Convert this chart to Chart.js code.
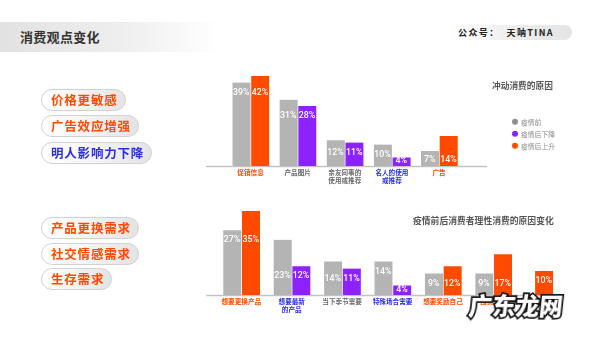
<!DOCTYPE html>
<html lang="zh">
<head>
<meta charset="utf-8">
<script src="https://cdn.jsdelivr.net/npm/chart.js@4.4.1/dist/chart.umd.min.js"></script>
<style>
  html, body { margin: 0; padding: 0; background: #fff; }
  #page { position: relative; width: 600px; height: 337px; overflow: hidden;
          font-family: "Noto Sans CJK SC", "Noto Sans", sans-serif; }
  canvas { position: absolute; left: 0; top: 0; }
  .band { position: absolute; left: 0; top: 22px; width: 220px; height: 30px;
          background: linear-gradient(to right, #e2e2e2 0%, #eeeeee 55%, rgba(255,255,255,0) 100%); }
  .page-title { position: absolute; left: 20px; top: 22px; height: 30px; line-height: 30px;
                font-size: 13px; font-weight: 700; color: #333; letter-spacing: 0.3px; }
  .account { position: absolute; left: 446px; top: 25px; width: 126px; height: 15px; border-radius: 8px;
             background: linear-gradient(to right, rgba(255,255,255,0) 0%, #ececec 60%, #e4e4e4 100%);
             box-sizing: border-box; padding-left: 12px; font-size: 9px; font-weight: 700;
             line-height: 15px; color: #222; letter-spacing: 1.4px; white-space: pre; }
  .tag { position: absolute; left: 41px; height: 22px; border-radius: 11px; border: 1px solid #d2d2d2;
         box-sizing: border-box; padding: 0 7px 0 9px; white-space: nowrap;
         background: linear-gradient(to right, #ffffff 0%, #f5f5f5 45%, #e3e3e3 100%);
         font-size: 12.5px; font-weight: 700; line-height: 20px; letter-spacing: 0.8px; }
  .hot { color: #ff4a00; }
  .cool { color: #2b2fe0; }
  .watermark { position: absolute; left: 469px; top: 290px; font-size: 23.5px; font-weight: 900;
               color: #fff; -webkit-text-stroke: 3.5px #141414; paint-order: stroke fill;
               line-height: 30px; transform: skewX(-6deg); white-space: nowrap; }
</style>
</head>
<body>
<div id="page">
  <div class="band"></div>
  <div class="page-title">消费观点变化</div>
  <div class="account">公众号：  天呐TINA</div>
  <canvas id="impulse" width="600" height="337"></canvas>
  <canvas id="rational" width="600" height="337"></canvas>
  <div class="watermark">广东龙网</div>
</div>
<script>
// ---- impulse purchases: reasons before / after the pandemic (%) ----
const impulseCategories = ['促销信息', '产品图片', ['亲友同事的', '使用或推荐'], ['名人的使用', '或推荐'], '广告'];
const impulseBefore = [39, 31, 12, 10, 7];
const impulseAfter  = [42, 28, 11, 4, 14];

// ---- rational purchases: reasons before / after the pandemic (%) ----
const rationalCategories = ['想要更换产品', ['想要最新', '的产品'], '当下季节需要', '特殊场合需要', '想要奖励自己', '囤货需要', '防疫需要'];
const rationalBefore = [27, 23, 14, 14, 9, 9, null];
const rationalAfter  = [35, 12, 11, 4, 12, 17, 10];

// ---- side notes ----
const impulseNotes  = ['价格更敏感', '广告效应增强', '明人影响力下降'];
const rationalNotes = ['产品更换需求', '社交情感需求', '生存需求'];
const legendNames = ['疫情前', '疫情后下降', '疫情后上升'];

// styling
const FONT = '"Noto Sans CJK SC", "Noto Sans", sans-serif';
const GREY = '#b4b4b4', UP = '#ff4a00', DOWN = '#8b22ff';
const TONE = { hot: '#ff4a00', cool: '#2b2fe0', plain: '#6a6a6a' };
const impulseTickTone  = ['hot', 'plain', 'plain', 'cool', 'hot'];
const rationalTickTone = ['hot', 'cool', 'plain', 'cool', 'hot', 'hot', 'hot'];
const impulseNoteTone  = ['hot', 'hot', 'cool'];
const rationalNoteTone = ['hot', 'hot', 'hot'];

function placeNotes(texts, tones, tops) {
  const page = document.getElementById('page');
  texts.forEach((t, i) => {
    const d = document.createElement('div');
    d.className = 'tag ' + tones[i];
    d.style.top = tops[i] + 'px';
    d.textContent = t;
    page.appendChild(d);
  });
}
placeNotes(impulseNotes, impulseNoteTone, [89, 115, 142]);
placeNotes(rationalNotes, rationalNoteTone, [217, 243, 268]);

// the "after" bar is orange when the share grew, purple when it fell
const afterColours = (before, after) =>
  after.map((v, i) => (before[i] == null || v > before[i]) ? UP : DOWN);

// grey base line running under each group of bars
const baseline = {
  id: 'baseline',
  beforeDatasetsDraw(chart, args, opts) {
    const { ctx, chartArea } = chart;
    const y = chart.scales.y.getPixelForValue(0) + 0.5;
    ctx.save();
    ctx.strokeStyle = '#c2c2c2';
    ctx.lineWidth = 1.5;
    ctx.beginPath();
    ctx.moveTo(chartArea.left - opts.extendLeft, y);
    ctx.lineTo(chartArea.right + opts.extendRight, y);
    ctx.stroke();
    ctx.restore();
  }
};

// percentage labels inside the bars, aligned per category
const valueLabels = {
  id: 'valueLabels',
  afterDatasetsDraw(chart) {
    const { ctx } = chart;
    ctx.save();
    ctx.font = '500 8.8px Roboto, "DejaVu Sans", sans-serif';
    ctx.fillStyle = '#ffffff';
    ctx.textAlign = 'center';
    ctx.textBaseline = 'middle';
    chart.data.labels.forEach((_, i) => {
      const bars = [];
      chart.data.datasets.forEach((ds, di) => {
        const v = ds.data[i];
        if (v == null) return;
        bars.push({ el: chart.getDatasetMeta(di).data[i], v });
      });
      const tall = bars.filter(b => b.el.base - b.el.y >= 14);
      const groupY = tall.length ? Math.max(...tall.map(b => b.el.y)) + 10 : 0;
      bars.forEach(b => {
        const h = b.el.base - b.el.y;
        const y = h >= 14 ? Math.min(groupY, b.el.base - 6) : b.el.base - 5;
        ctx.fillText(b.v + '%', b.el.x, y);
      });
    });
    ctx.restore();
  }
};

// chart heading and optional dot legend
const notes = {
  id: 'notes',
  afterDraw(chart, args, opts) {
    const { ctx } = chart;
    ctx.save();
    ctx.textBaseline = 'middle';
    ctx.textAlign = 'left';
    ctx.fillStyle = '#555';
    ctx.font = 'bold ' + opts.titleSize + 'px ' + FONT;
    ctx.fillText(opts.title, opts.titleX, opts.titleY);
    if (opts.legend) {
      const L = opts.legend;
      ctx.font = '6.8px ' + FONT;
      legendNames.forEach((name, i) => {
        const y = L.y + i * L.step;
        ctx.fillStyle = L.colours[i];
        ctx.beginPath();
        ctx.arc(L.x, y, 3, 0, Math.PI * 2);
        ctx.fill();
        ctx.fillStyle = '#8a8a8a';
        ctx.fillText(name, L.x + 6, y + 0.5);
      });
    }
    ctx.restore();
  }
};

function barChart(id, cfg) {
  return new Chart(document.getElementById(id), {
    type: 'bar',
    data: {
      labels: cfg.labels,
      datasets: [
        { label: '疫情前', data: cfg.before, backgroundColor: GREY },
        { label: '疫情后', data: cfg.after, backgroundColor: afterColours(cfg.before, cfg.after) }
      ]
    },
    options: {
      responsive: false,
      animation: false,
      devicePixelRatio: 1,
      layout: { padding: cfg.padding },
      datasets: {
        bar: {
          barThickness: 18.7,
          skipNull: true,
          borderWidth: { left: 1, right: 0, top: 0, bottom: 0 },
          borderColor: '#ffffff',
          borderSkipped: 'start'
        }
      },
      scales: {
        x: {
          grid: { display: false, drawTicks: false },
          border: { display: false },
          ticks: {
            autoSkip: false, maxRotation: 0, padding: 3,
            color: ctx => TONE[cfg.tones[ctx.index]],
            font: { family: FONT, size: 6.6, weight: 'bold', lineHeight: 1.2 }
          },
          afterFit(scale) { scale.height = 30; }
        },
        y: { display: false, min: 0, max: cfg.max }
      },
      plugins: {
        legend: { display: false },
        tooltip: { enabled: false },
        baseline: cfg.baseline,
        notes: cfg.notes
      }
    },
    plugins: [baseline, valueLabels, notes]
  });
}

barChart('impulse', {
  labels: impulseCategories, before: impulseBefore, after: impulseAfter,
  tones: impulseTickTone, max: 50,
  padding: { left: 227, right: 137.4, top: 59, bottom: 141 },
  baseline: { extendLeft: 21, extendRight: 24.5 },
  notes: {
    title: '冲动消费的原因', titleSize: 8.7, titleX: 492, titleY: 86,
    legend: { x: 515, y: 121.7, step: 12, colours: ['#8f8f8f', DOWN, UP] }
  }
});

barChart('rational', {
  labels: rationalCategories, before: rationalBefore, after: rationalAfter,
  tones: rationalTickTone, max: 40,
  padding: { left: 216.1, right: 31, top: 199, bottom: 12 },
  baseline: { extendLeft: 10, extendRight: -9 },
  notes: { title: '疫情前后消费者理性消费的原因变化', titleSize: 8.8, titleX: 413, titleY: 221 }
});
</script>
</body>
</html>
